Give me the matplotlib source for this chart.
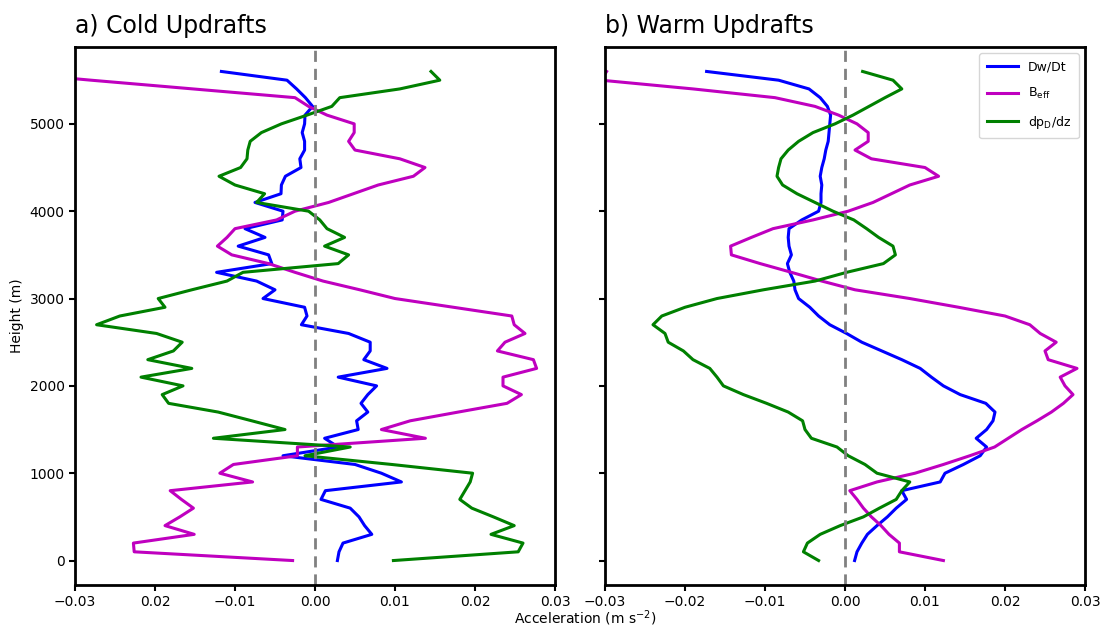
import numpy as np
import matplotlib.pyplot as plt

# height levels (m)
heights = [0, 100, 200, 300, 400, 500, 600, 700, 800, 900,
           1000, 1100, 1200, 1300, 1400, 1500, 1600, 1700, 1800, 1900,
           2000, 2100, 2200, 2300, 2400, 2500, 2600, 2700, 2800, 2900,
           3000, 3100, 3200, 3300, 3400, 3500, 3600, 3700, 3800, 3900,
           4000, 4100, 4200, 4300, 4400, 4500, 4600, 4700, 4800, 4900,
           5000, 5100, 5200, 5300, 5400, 5500, 5600]

# accelerations, in units of 1e-3 m s-2
dwdt_cold = [2.8, 3.0, 3.5, 7.1, 6.2, 5.5, 4.4, 0.75, 1.3, 10.8,
             8.3, 5.0, -4.0, 2.9, 1.2, 5.4, 5.2, 6.6, 5.75, 6.6,
             7.7, 2.9, 9.0, 6.1, 6.9, 6.9, 4.2, -1.7, -1.0, -1.3,
             -6.5, -5.0, -7.3, -12.3, -5.4, -5.8, -9.6, -6.25, -8.75, -4.1,
             -4.0, -7.5, -4.25, -4.2, -3.7, -1.75, -1.9, -1.3, -1.3, -1.6,
             -1.3, -1.25, -0.3, -1.2, -2.3, -3.5, -11.7]
beff_cold = [-2.8, -22.6, -22.7, -15.1, -18.75, -16.9, -15.2, -16.7, -18.1, -7.8,
             -11.9, -10.2, -2.2, -2.2, 13.8, 8.3, 11.9, 17.9, 24.0, 25.8,
             23.5, 23.5, 27.7, 27.3, 22.8, 23.75, 26.25, 24.9, 24.6, 17.3,
             10.0, 5.6, 1.0, -2.5, -5.8, -10.4, -12.2, -11.0, -10.0, -4.8,
             -2.5, 1.7, 4.8, 7.9, 12.3, 13.75, 10.6, 5.0, 4.2, 4.9,
             4.9, 1.5, -0.8, -2.5, -15.25, -28.0, -40.0]
dpdz_cold = [9.8, 25.4, 26.0, 22.0, 24.9, 22.3, 19.6, 18.1, 18.75, 19.4,
             19.7, 9.6, -1.25, 4.4, -12.7, -3.75, -7.9, -12.1, -18.3, -19.1,
             -16.5, -21.75, -15.4, -20.9, -17.7, -16.6, -19.8, -27.3, -24.4, -18.75,
             -19.6, -15.4, -11.0, -9.0, 2.9, 4.2, 1.2, 3.7, 1.5, 0.6,
             -0.8, -7.3, -6.3, -10.0, -12.0, -9.3, -8.5, -8.4, -8.1, -6.7,
             -4.2, -1.0, 2.1, 3.1, 10.6, 15.6, 14.5]

dwdt_warm = [1.2, 1.5, 2.1, 2.8, 4.0, 5.3, 6.4, 7.7, 7.1, 11.9,
             12.5, 14.8, 16.9, 17.7, 16.4, 17.7, 18.5, 18.75, 17.6, 14.4,
             12.3, 10.8, 9.4, 7.1, 4.6, 2.1, 0.2, -1.9, -3.3, -4.4,
             -5.8, -6.25, -6.4, -6.9, -7.2, -6.7, -7.0, -7.1, -7.0, -5.4,
             -3.3, -3.0, -3.0, -2.9, -3.1, -2.9, -2.6, -2.4, -2.1, -2.0,
             -1.9, -1.8, -2.2, -3.1, -4.5, -8.3, -17.3]
beff_warm = [12.3, 6.8, 6.8, 5.5, 4.5, 3.3, 2.3, 1.5, 0.6, 4.0,
             8.75, 12.3, 15.6, 18.7, 20.4, 22.1, 24.0, 25.8, 27.3, 28.5,
             27.5, 26.9, 29.0, 25.4, 25.0, 26.4, 24.4, 23.1, 20.0, 14.2,
             8.1, 1.25, -2.9, -6.7, -10.6, -14.2, -14.3, -11.7, -9.0, -4.0,
             0.4, 3.5, 5.8, 8.1, 11.7, 10.0, 3.3, 1.25, 2.9, 2.9,
             1.5, -0.8, -3.75, -8.75, -19.0, -30.5, -29.8]
dpdz_warm = [-3.3, -5.2, -4.7, -3.1, -0.6, 2.3, 4.3, 6.4, 7.1, 8.1,
             4.0, 2.5, 0.4, -1.0, -4.2, -5.0, -5.3, -7.1, -9.8, -12.7,
             -15.2, -16.0, -16.9, -19.0, -20.2, -22.1, -22.5, -24.0, -22.9, -20.0,
             -16.0, -10.2, -3.75, 0.2, 4.8, 6.3, 6.0, 4.2, 2.7, 1.1,
             -1.5, -3.75, -6.0, -7.8, -8.5, -8.3, -8.0, -7.1, -5.8, -4.0,
             -1.25, 1.0, 3.0, 5.0, 7.1, 6.0, 2.2]

xticks = [-0.03, -0.02, -0.01, 0.0, 0.01, 0.02, 0.03]
xlabels_cold = ['\u22120.03', '0.02', '\u22120.01', '0.00', '0.01', '0.02', '0.03']
xlabels_warm = ['\u22120.03', '\u22120.02', '\u22120.01', '0.00', '0.01', '0.02', '0.03']

fig = plt.figure(figsize=(11.06, 6.26), dpi=100)
ax1 = fig.add_axes([75/1106, 41/626, 480/1106, 538/626])
ax2 = fig.add_axes([605/1106, 41/626, 480/1106, 538/626], sharey=ax1)

panels = [
    (ax1, dwdt_cold, beff_cold, dpdz_cold, 'a) Cold Updrafts', xlabels_cold),
    (ax2, dwdt_warm, beff_warm, dpdz_warm, 'b) Warm Updrafts', xlabels_warm),
]
for ax, dw, be, dp, title, xl in panels:
    ax.plot(np.array(dw) * 1e-3, heights, color='b', lw=2.2, label='Dw/Dt')
    ax.plot(np.array(be) * 1e-3, heights, color='m', lw=2.2, label=r'B$_{\mathrm{eff}}$')
    ax.plot(np.array(dp) * 1e-3, heights, color='g', lw=2.2, label=r'dp$_{\mathrm{D}}$/dz')
    ax.axvline(0, color='gray', ls='--', lw=2, dashes=(4, 2.5))
    ax.set_xlim(-0.03, 0.03)
    ax.set_xticks(xticks)
    ax.set_xticklabels(xl)
    ax.set_title(title, loc='left', fontsize=17, pad=10)
    for s in ax.spines.values():
        s.set_linewidth(2)
    ax.tick_params(width=1.5, length=4, labelsize=10)

ax1.set_yticks([0, 1000, 2000, 3000, 4000, 5000])
ax1.set_ylabel('Height (m)', fontsize=10)
plt.setp(ax2.get_yticklabels(), visible=False)
ax2.legend(loc='upper right', fontsize=9, labelspacing=1.0, handlelength=2.5,
           borderpad=0.6)
fig.text(585/1106, 8/626, r'Acceleration (m s$^{-2}$)', ha='center', va='center', fontsize=10)

fig.savefig('out.png', dpi=100)
